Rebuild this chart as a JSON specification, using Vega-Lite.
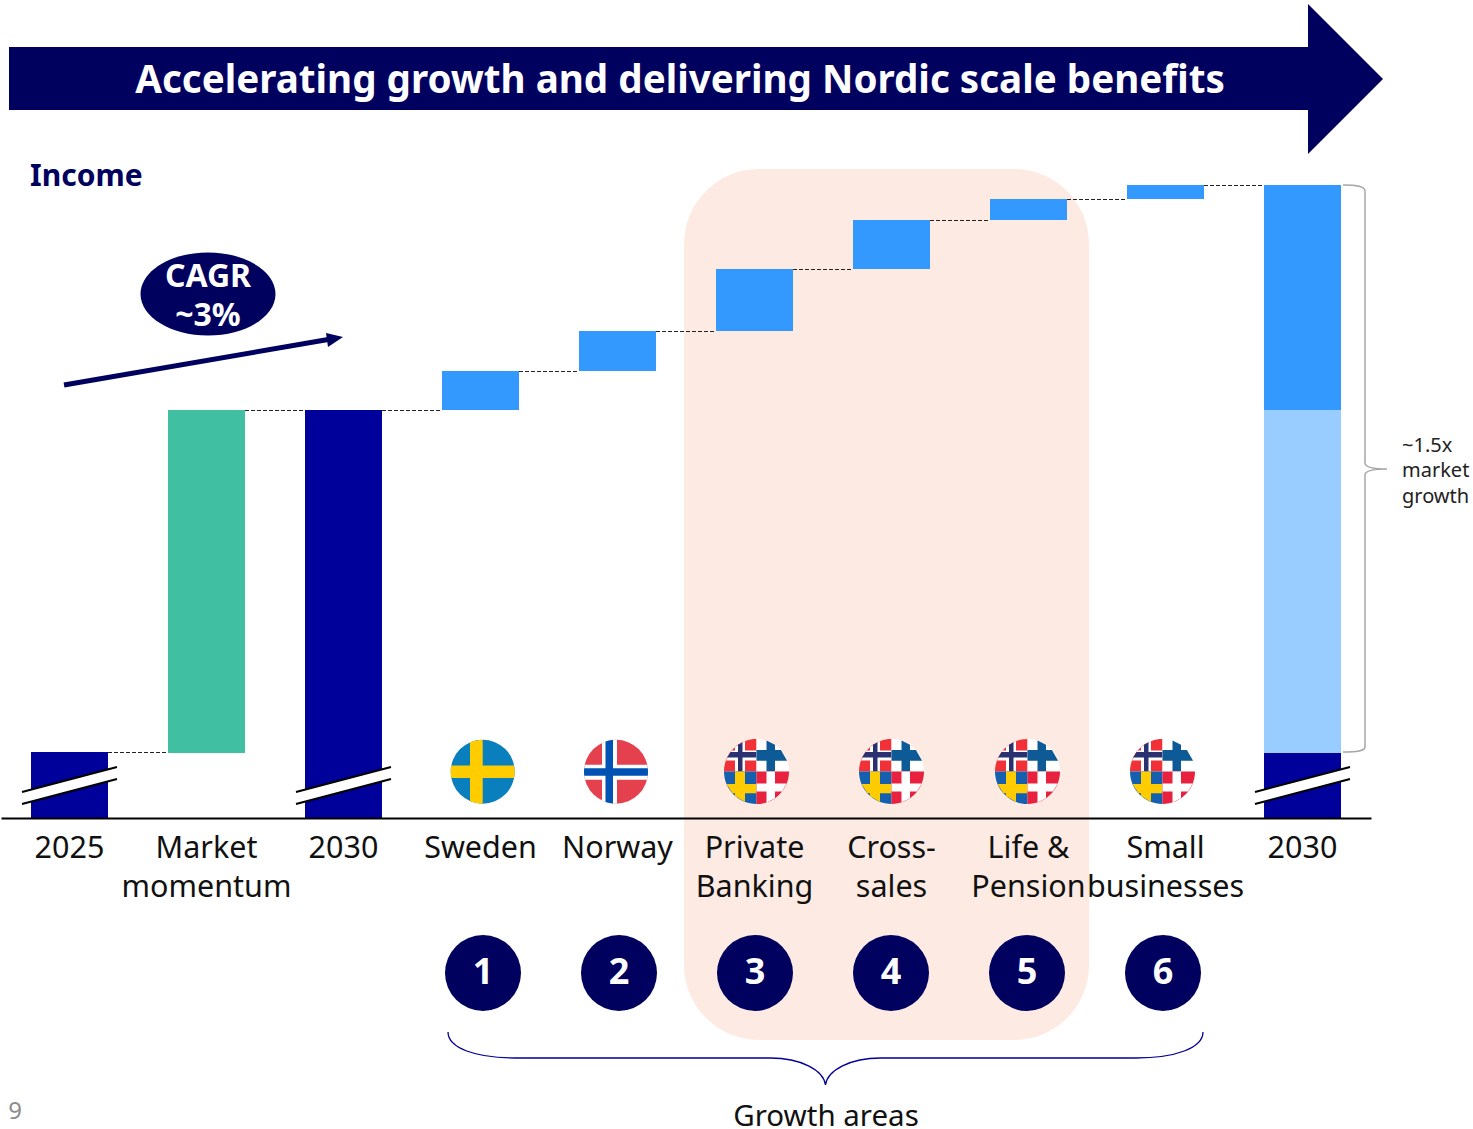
{"$schema":"https://vega.github.io/schema/vega-lite/v6.json","width":1371,"height":818,"autosize":{"type":"none"},"padding":{"left":0,"top":0,"right":102,"bottom":311},"background":"white","config":{"view":{"stroke":null}},
"datasets":{
"bars":[{"category":"2025","low":0,"high":66,"part":"Base"},{"category":"Market momentum","low":65,"high":408,"part":"Market"},{"category":"2030","low":0,"high":408,"part":"Base"},{"category":"Sweden","low":408,"high":447,"part":"Growth"},{"category":"Norway","low":447,"high":487,"part":"Growth"},{"category":"Private Banking","low":487,"high":549,"part":"Growth"},{"category":"Cross-sales","low":549,"high":598,"part":"Growth"},{"category":"Life & Pension","low":598,"high":619,"part":"Growth"},{"category":"Small businesses","low":619,"high":633,"part":"Growth"},{"category":"2030 total","low":0,"high":65,"part":"Base"},{"category":"2030 total","low":65,"high":408,"part":"Momentum"},{"category":"2030 total","low":408,"high":633,"part":"Growth"}],
"connectors":[{"px":108,"px2":168,"income":65.5},{"px":245,"px2":305,"income":407.5},{"px":382,"px2":442,"income":407.5},{"px":519,"px2":579,"income":446.5},{"px":656,"px2":716,"income":486.5},{"px":793,"px2":853,"income":548.5},{"px":930,"px2":990,"income":597.5},{"px":1067,"px2":1127,"income":618.5},{"px":1204,"px2":1264,"income":632.5}],
"breaks":[{"px":69.5,"income":32.5},{"px":343.5,"income":32.5},{"px":1302.5,"income":32.5}],
"mosaic":[{"px":756.5,"income":46.5},{"px":891.5,"income":46.5},{"px":1027.5,"income":46.5},{"px":1162.5,"income":46.5}],
"badges":[{"px":483,"income":-155,"label":"1"},{"px":619,"income":-155,"label":"2"},{"px":755,"income":-155,"label":"3"},{"px":891,"income":-155,"label":"4"},{"px":1027,"income":-155,"label":"5"},{"px":1163,"income":-155,"label":"6"}]
},
"encoding":{"x":{"field":"px","type":"quantitative","scale":{"domain":[0,1371],"nice":false,"zero":false},"axis":null},"y":{"field":"income","type":"quantitative","scale":{"domain":[0,818],"nice":false,"zero":false},"axis":null}},
"resolve":{"scale":{"x":"independent"},"axis":{"x":"independent"}},
"layer":[
{"data":{"values":[{"px":684,"px2":1089,"income":649,"income2":-222}]},"mark":{"type":"rect","color":"#FDEBE3","cornerRadius":75},"encoding":{"x2":{"field":"px2"},"y2":{"field":"income2"}}},
{"data":{"values":[{"px":1308,"income":739}]},"mark":{"type":"point","filled":true,"opacity":1,"color":"#00005E","size":4,"shape":"M-1299,-32L0,-32L0,-75L75,0L0,75L0,31L-1299,31Z"}},
{"data":{"name":"connectors"},"mark":{"type":"rule","color":"#222222","strokeWidth":1,"strokeDash":[4,2]},"encoding":{"x2":{"field":"px2"}}},
{"data":{"name":"bars"},"mark":{"type":"bar"},"encoding":{
"x":{"field":"category","type":"nominal","sort":["2025","Market momentum","2030","Sweden","Norway","Private Banking","Cross-sales","Life & Pension","Small businesses","2030 total"],"scale":{"type":"band","range":[1,1371],"paddingInner":0.438,"paddingOuter":0.219},
"axis":{"title":null,"zindex":1,"ticks":false,"labelAngle":0,"labelFont":"Noto Sans","labelFontSize":30.5,"labelColor":"#111111","labelPadding":15,"labelLineHeight":39,"labelOverlap":false,"labelBound":false,"labelFlush":false,"labelLimit":0,"domainColor":"#000000","domainWidth":2,"grid":false,
"labelExpr":"{'2025':['2025'],'Market momentum':['Market','momentum'],'2030':['2030'],'Sweden':['Sweden'],'Norway':['Norway'],'Private Banking':['Private','Banking'],'Cross-sales':['Cross-','sales'],'Life & Pension':['Life &','Pension'],'Small businesses':['Small','businesses'],'2030 total':['2030']}[datum.value]"}},
"y":{"field":"high","type":"quantitative","scale":{"domain":[0,818],"nice":false,"zero":false},"axis":null},"y2":{"field":"low"},
"color":{"field":"part","type":"nominal","legend":null,"scale":{"domain":["Base","Market","Growth","Momentum"],"range":["#00009B","#40BFA3","#3399FF","#99CCFF"]}}}},
{"data":{"name":"breaks"},"mark":{"type":"point","filled":true,"opacity":1,"color":"#FFFFFF","size":4,"shape":"M-47.5,6.5L47.5,-18.5L47.5,-6.5L-47.5,18.5Z"}},
{"data":{"name":"breaks"},"mark":{"type":"point","filled":false,"opacity":1,"stroke":"#000000","strokeWidth":2,"size":4,"shape":"M-47.5,6.5L47.5,-18.5M-47.5,18.5L47.5,-6.5"}},
{"data":{"values":[{"px":64,"px2":331,"income":433,"income2":479}]},"mark":{"type":"rule","color":"#00005E","strokeWidth":5},"encoding":{"x2":{"field":"px2"},"y2":{"field":"income2"}}},
{"data":{"values":[{"px":343,"income":481}]},"mark":{"type":"point","filled":true,"opacity":1,"color":"#00005E","size":4,"shape":"M0,0L-17,-4L-15,10Z"}},
{"data":{"values":[{"px":208,"income":524}]},"mark":{"type":"point","filled":true,"opacity":1,"color":"#00005E","size":4,"shape":"M-67.5,0A67.5,41.5 0 1,1 67.5,0A67.5,41.5 0 1,1 -67.5,0Z"}},
{"data":{"values":[{"px":482.7,"income":46.3}]},"mark":{"type":"point","filled":true,"opacity":1,"color":"#0A7FBD","shape":"circle"},"encoding":{"size":{"value":4096}}},
{"data":{"values":[{"px":482.7,"income":46.3}]},"mark":{"type":"point","filled":true,"opacity":1,"color":"#FFCC00","size":4,"shape":"M-12.7,-29.4A32 32 0 0 1 0,-32L0,-6.3L31.4,-6.3A32 32 0 0 1 31.4,6.3L0,6.3L0,32A32 32 0 0 1 -12.7,29.4L-12.7,6.3L-31.4,6.3A32 32 0 0 1 -31.4,-6.3L-12.7,-6.3Z"}},
{"data":{"values":[{"px":616,"income":46.3}]},"mark":{"type":"point","filled":true,"opacity":1,"color":"#E5404D","shape":"circle"},"encoding":{"size":{"value":4096}}},
{"data":{"values":[{"px":616,"income":46.3}]},"mark":{"type":"point","filled":true,"opacity":1,"color":"#FFFFFF","size":4,"shape":"M-14,-28.8A32 32 0 0 1 1,-32L1,-7L31.2,-7A32 32 0 0 1 31,8L1,8L1,32A32 32 0 0 1 -14,28.8L-14,8L-31,8A32 32 0 0 1 -31.2,-7L-14,-7Z"}},
{"data":{"values":[{"px":616,"income":46.3}]},"mark":{"type":"point","filled":true,"opacity":1,"color":"#0052B4","size":4,"shape":"M-10.5,-30.2A32 32 0 0 1 -3,-31.9L-3,-3.5L31.8,-3.5A32 32 0 0 1 31.75,4L-3,4L-3,31.9A32 32 0 0 1 -10.5,30.2L-10.5,4L-31.75,4A32 32 0 0 1 -31.8,-3.5L-10.5,-3.5Z"}},
{"data":{"name":"mosaic"},"mark":{"type":"point","filled":true,"opacity":1,"color":"#F23037","size":4,"shape":"M0,0L-32.5,0A32.5 32.5 0 0 1 0,-32.5Z"}},
{"data":{"name":"mosaic"},"mark":{"type":"point","filled":true,"opacity":1,"color":"#FFFFFF","size":4,"shape":"M-21.5,0L-21.5,-24.4L-11.5,-30.4L-11.5,0ZM0,-11L-30.6,-11L-24.8,-21L0,-21Z"}},
{"data":{"name":"mosaic"},"mark":{"type":"point","filled":true,"opacity":1,"color":"#2A3170","size":4,"shape":"M-18.5,0L-18.5,-26.7L-14,-29.3L-14,0ZM0,-14L-29.3,-14L-26,-19.5L0,-19.5Z"}},
{"data":{"name":"mosaic"},"mark":{"type":"point","filled":true,"opacity":1,"color":"#FFFFFF","size":4,"shape":"M0,0L0,-32.5A32.5 32.5 0 0 1 32.5,0Z"}},
{"data":{"name":"mosaic"},"mark":{"type":"point","filled":true,"opacity":1,"color":"#0E5A96","size":4,"shape":"M10,0L10,-30.9L18.5,-26.7L18.5,0ZM0,-21.5L24.4,-21.5L30.6,-10.8L0,-10.8Z"}},
{"data":{"name":"mosaic"},"mark":{"type":"point","filled":true,"opacity":1,"color":"#1560AE","size":4,"shape":"M0,0L0,32.5A32.5 32.5 0 0 1 -32.5,0Z"}},
{"data":{"name":"mosaic"},"mark":{"type":"point","filled":true,"opacity":1,"color":"#FFCC00","size":4,"shape":"M-21.5,0L-11.5,0L-11.5,30.4L-21.5,24.4ZM-30,12.5L0,12.5L0,21.8L-24.1,21.8Z"}},
{"data":{"name":"mosaic"},"mark":{"type":"point","filled":true,"opacity":1,"color":"#E8213F","size":4,"shape":"M0,0L32.5,0A32.5 32.5 0 0 1 0,32.5Z"}},
{"data":{"name":"mosaic"},"mark":{"type":"point","filled":true,"opacity":1,"color":"#FFFFFF","size":4,"shape":"M10,0L18.5,0L18.5,26.7L10,30.9ZM0,12L30.2,12L25.6,20L0,20Z"}},
{"data":{"name":"badges"},"mark":{"type":"point","filled":true,"opacity":1,"color":"#00005E","shape":"circle"},"encoding":{"size":{"value":5776}}},
{"data":{"name":"badges"},"mark":{"type":"text","font":"Noto Sans","fontWeight":"bold","fontSize":36,"color":"#FFFFFF","baseline":"middle","align":"center"},"encoding":{"text":{"field":"label"}}},
{"data":{"values":[{"px":680,"income":737,"label":"Accelerating growth and delivering Nordic scale benefits"}]},"mark":{"type":"text","font":"Noto Sans","fontWeight":"bold","fontSize":38.6,"color":"#FFFFFF","baseline":"middle","align":"center"},"encoding":{"text":{"field":"label"}}},
{"data":{"values":[{"px":208,"income":541,"label":"CAGR"},{"px":208,"income":502,"label":"~3%"}]},"mark":{"type":"text","font":"Noto Sans","fontWeight":"bold","fontSize":32,"color":"#FFFFFF","baseline":"middle","align":"center"},"encoding":{"text":{"field":"label"}}},
{"data":{"values":[{"px":30,"income":641,"label":"Income"}]},"mark":{"type":"text","font":"Noto Sans","fontWeight":"bold","fontSize":30,"color":"#00005E","baseline":"middle","align":"left"},"encoding":{"text":{"field":"label"}}},
{"data":{"values":[{"px":1402,"income":372,"label":"~1.5x"},{"px":1402,"income":347,"label":"market"},{"px":1402,"income":321,"label":"growth"}]},"mark":{"type":"text","font":"Noto Sans","fontSize":20,"color":"#222222","baseline":"middle","align":"left"},"encoding":{"text":{"field":"label"}}},
{"data":{"values":[{"px":826,"income":-299,"label":"Growth areas"}]},"mark":{"type":"text","font":"Noto Sans","fontSize":29.5,"color":"#111111","baseline":"middle","align":"center"},"encoding":{"text":{"field":"label"}}},
{"data":{"values":[{"px":15,"income":-294,"label":"9"}]},"mark":{"type":"text","font":"Noto Sans","fontSize":24,"color":"#8C8C8C","baseline":"middle","align":"center"},"encoding":{"text":{"field":"label"}}},
{"data":{"values":[{"px":825.5,"income":-240}]},"mark":{"type":"point","filled":false,"opacity":1,"stroke":"#00009B","strokeWidth":1.3,"size":4,"shape":"M-377.5,-26C-377.5,-10 -350,0 -310,0L-55,0C-25,0 -2,12 0,27C2,12 25,0 55,0L310,0C350,0 377.5,-10 377.5,-26"}},
{"data":{"values":[{"px":1365,"income":349}]},"mark":{"type":"point","filled":false,"opacity":1,"stroke":"#A6A6A6","strokeWidth":1.5,"size":4,"shape":"M-22,-284C-8,-284 0,-283 0,-278L0,-6C0,-2 8,0 22,0C8,0 0,2 0,6L0,278C0,282 -8,283 -22,283"}}
]}
